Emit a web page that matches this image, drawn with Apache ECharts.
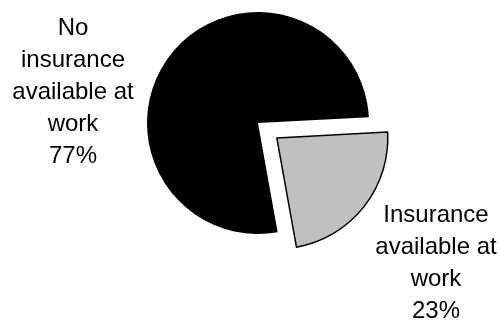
<!DOCTYPE html>
<html>
<head>
<meta charset="utf-8">
<script src="https://cdn.jsdelivr.net/npm/echarts@6/dist/echarts.min.js"></script>
<style>
    html, body { margin: 0; padding: 0; background: #fff; }
    #main { width: 500px; height: 322px; }
</style>
</head>
<body>
<div id="main"></div>
<script>
// data
const categories = ['Insurance\navailable at\nwork', 'No\ninsurance\navailable at\nwork'];
const shares = [23, 77];
const sliceColors = ['#c0c0c0', '#000000'];

// layout
const pieCenter = [258, 123];
const pieRadius = 111;
const startAngle = 3;
const explode = [24, 0];           // px each slice is pulled out
const labelSpots = [[436, 263], [73, 92]];

const chart = echarts.init(document.getElementById('main'));

// one pie series per slice so that each can be pulled out on its own
const total = shares.reduce((a, b) => a + b, 0);
let acc = 0;
const series = shares.map((v, k) => {
    const mid = (startAngle - (acc + v / 2) / total * 360) * Math.PI / 180;
    acc += v;
    const cx = pieCenter[0] + explode[k] * Math.cos(mid);
    const cy = pieCenter[1] - explode[k] * Math.sin(mid);
    return {
        type: 'pie',
        center: [cx, cy],
        radius: pieRadius,
        startAngle: startAngle,
        clockwise: true,
        silent: true,
        avoidLabelOverlap: false,
        data: categories.map((name, i) => ({
            name: name,
            value: shares[i],
            itemStyle: i === k ? {
                color: sliceColors[i],
                borderColor: '#000',
                borderWidth: i === 0 ? 1.5 : 0
            } : { color: 'none', borderWidth: 0 },
            label: { show: i === k }
        })),
        label: {
            position: 'outside',
            alignTo: 'none',
            overflow: 'none',
            formatter: '{b}\n{c}%',
            fontFamily: 'Liberation Sans, Arial, sans-serif',
            fontSize: 24,
            lineHeight: 32,
            color: '#000',
            align: 'center'
        },
        labelLine: { show: false },
        labelLayout: function (params) {
            const p = labelSpots[params.dataIndex];
            return { x: p[0], y: p[1], align: 'center', verticalAlign: 'middle' };
        }
    };
});

chart.setOption({
    animation: false,
    series: series
});
</script>
</body>
</html>
